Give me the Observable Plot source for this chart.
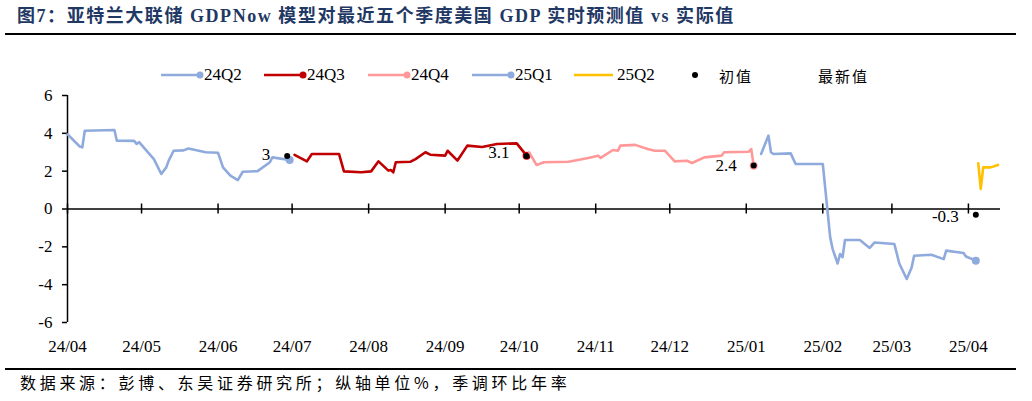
<!DOCTYPE html>
<html><head><meta charset="utf-8">
<script src="https://cdn.jsdelivr.net/npm/d3@7"></script>
<script src="https://cdn.jsdelivr.net/npm/@observablehq/plot@0.6"></script>
<style>
html,body{margin:0;padding:0;background:#fff;}
#wrap{position:relative;width:1032px;height:401px;overflow:hidden;font-family:"Liberation Serif","Noto Sans CJK SC",serif;color:#000;}
#title{position:absolute;left:17px;top:6px;line-height:20px;font-size:18px;font-weight:bold;color:#1F3864;letter-spacing:1.55px;white-space:nowrap;}
.hr{position:absolute;left:5px;width:1011px;height:2px;background:#000;}
.item{position:absolute;top:65px;height:20px;display:flex;align-items:center;font-size:17px;white-space:nowrap;}
.item svg{display:block;}
.cn{font-family:"Noto Sans CJK SC",sans-serif;font-size:15px;letter-spacing:2px;}
#chart{position:absolute;left:0;top:88px;}
#caption{position:absolute;left:20px;top:372px;line-height:20px;font-family:"Noto Sans CJK SC",sans-serif;font-size:16px;letter-spacing:3.7px;white-space:nowrap;}
</style>
</head><body>
<div id="wrap">
  <div id="title">图7：亚特兰大联储 GDPNow 模型对最近五个季度美国 GDP 实时预测值 vs 实际值</div>
  <div class="hr" style="top:33px"></div>
  <div id="legend"></div>
  <div id="chart"></div>
  <div class="hr" style="top:368px"></div>
  <div id="caption">数据来源：彭博、东吴证券研究所；纵轴单位%，季调环比年率</div>
</div>
<script>
// ---- data ----
const seriesNames = ["24Q2", "24Q3", "24Q4", "25Q1", "25Q2"];
const seriesColors = ["#8FAADC", "#C00000", "#FF9999", "#8FAADC", "#FFC000"];

const q24Q2Dates = ["2024-04-01","2024-04-06","2024-04-07","2024-04-08","2024-04-20","2024-04-21","2024-04-28","2024-04-29","2024-04-30","2024-05-06","2024-05-09","2024-05-11","2024-05-12","2024-05-14","2024-05-18","2024-05-20","2024-05-27","2024-06-01","2024-06-03","2024-06-06","2024-06-09","2024-06-11","2024-06-17","2024-06-22","2024-06-23","2024-06-30"];
const q24Q2Values = [3.95,3.30,3.26,4.14,4.18,3.61,3.60,3.44,3.53,2.64,1.85,2.20,2.56,3.08,3.10,3.20,3.00,2.97,2.20,1.76,1.53,1.97,2.00,2.47,2.73,2.59];

const q24Q3Dates = ["2024-07-02","2024-07-07","2024-07-09","2024-07-20","2024-07-22","2024-07-29","2024-08-02","2024-08-05","2024-08-09","2024-08-10","2024-08-11","2024-08-12","2024-08-18","2024-08-20","2024-08-24","2024-08-26","2024-09-01","2024-09-02","2024-09-06","2024-09-10","2024-09-16","2024-09-22","2024-09-30","2024-10-04"];
const q24Q3Values = [2.86,2.52,2.91,2.91,1.99,1.94,1.99,2.52,2.03,2.06,1.94,2.47,2.50,2.64,3.00,2.87,2.82,3.08,2.56,3.35,3.28,3.44,3.47,2.82];

const q24Q4Dates = ["2024-10-05","2024-10-08","2024-10-11","2024-10-21","2024-10-29","2024-11-02","2024-11-03","2024-11-08","2024-11-10","2024-11-11","2024-11-17","2024-11-22","2024-11-25","2024-11-29","2024-12-03","2024-12-08","2024-12-10","2024-12-15","2024-12-22","2024-12-23","2025-01-02","2025-01-03","2025-01-04"];
const q24Q4Values = [3.00,2.33,2.47,2.50,2.70,2.82,2.70,3.12,3.08,3.35,3.39,3.17,3.08,3.08,2.52,2.55,2.43,2.73,2.82,3.00,3.03,3.17,2.29];

const q25Q1Dates = ["2025-01-07","2025-01-10","2025-01-11","2025-01-12","2025-01-19","2025-01-21","2025-02-01","2025-02-04","2025-02-05","2025-02-07","2025-02-08","2025-02-09","2025-02-10","2025-02-16","2025-02-20","2025-02-22","2025-03-02","2025-03-04","2025-03-07","2025-03-09","2025-03-10","2025-03-17","2025-03-22","2025-03-23","2025-03-30","2025-03-31","2025-04-04"];
const q25Q1Values = [2.91,3.88,3.00,2.91,2.94,2.38,2.38,-1.50,-2.12,-2.88,-2.38,-2.55,-1.64,-1.64,-2.06,-1.77,-1.85,-2.88,-3.70,-3.09,-2.47,-2.42,-2.65,-2.20,-2.33,-2.51,-2.73];

const q25Q2Dates = ["2025-04-05","2025-04-06","2025-04-07","2025-04-10","2025-04-13"];
const q25Q2Values = [2.41,1.06,2.20,2.20,2.33];

// 初值 (black dots) and 最新值 (labels)
const releaseDates = ["2024-06-29","2024-10-04","2025-01-04","2025-04-04"];
const initialValues = [2.8, 2.8, 2.3, -0.3];
const latestValues = [3.0, 3.1, 2.4, -0.3];

const xDomain = ["2024-04-01", "2025-04-14"];
const monthTicks = ["2024-04-01","2024-05-01","2024-06-01","2024-07-01","2024-08-01","2024-09-01","2024-10-01","2024-11-01","2024-12-01","2025-01-01","2025-02-01","2025-03-01","2025-04-01"];
const yTicks = [-6, -4, -2, 0, 2, 4, 6];
const legendExtra = ["初值", "最新值"];

// ---- build ----
const parse = d3.utcParse("%Y-%m-%d");
const allDates = [q24Q2Dates, q24Q3Dates, q24Q4Dates, q25Q1Dates, q25Q2Dates];
const allValues = [q24Q2Values, q24Q3Values, q24Q4Values, q25Q1Values, q25Q2Values];
const endDot = [true, true, true, true, false];
const series = seriesNames.map((name, k) => ({
  name, color: seriesColors[k], endDot: endDot[k],
  rows: allDates[k].map((d, i) => ({date: parse(d), value: allValues[k][i]}))
}));
const releases = releaseDates.map((d, i) => ({date: parse(d), initial: initialValues[i], latest: latestValues[i]}));
const ticks = monthTicks.map(parse);

const marks = [
  Plot.ruleY([0], {stroke: "#000", strokeWidth: 1.5}),
  Plot.ruleX([parse(xDomain[0])], {stroke: "#000", strokeWidth: 1.5}),
  Plot.ruleX(ticks, {x: d => d, y1: 0, y2: 0, insetTop: -5, insetBottom: -5, stroke: "#000", strokeWidth: 1.5}),
  Plot.axisY({ticks: yTicks, tickSize: 5, tickPadding: 10, tickFormat: d => String(d), label: null, strokeWidth: 1.5}),
  Plot.axisX({ticks: ticks, tickSize: 0, tickPadding: 17, tickFormat: d3.utcFormat("%y/%m"), label: null})
];
for (const s of series) {
  marks.push(Plot.line(s.rows, {x: "date", y: "value", stroke: s.color, strokeWidth: 2.6, strokeLinejoin: "round", strokeLinecap: "round"}));
  if (s.endDot) marks.push(Plot.dot(s.rows.slice(-1), {x: "date", y: "value", r: 4, fill: s.color, stroke: "none"}));
}
marks.push(Plot.dot(releases, {x: "date", y: "initial", r: 3, fill: "#000", stroke: "none"}));
marks.push(Plot.text(releases, {x: "date", y: "latest", text: d => String(d.latest), textAnchor: "end", dx: -17, dy: 2, fontSize: 17, fill: "#000"}));

const chart = Plot.plot({
  width: 1032, height: 272,
  marginLeft: 67, marginRight: 32, marginTop: 7, marginBottom: 38,
  x: {type: "utc", domain: xDomain.map(parse)},
  y: {domain: [-6, 6]},
  style: {fontSize: "17px", fontFamily: "Liberation Serif", color: "#000", background: "#fff", overflow: "visible"},
  marks
});
document.getElementById("chart").appendChild(chart);

// ---- legend ----
const legend = document.getElementById("legend");
const legendLeft = [161, 264, 368, 472, 574];
series.forEach((s, k) => {
  const div = document.createElement("div");
  div.className = "item";
  div.style.left = legendLeft[k] + "px";
  div.innerHTML = `<svg width="43" height="20"><line x1="0" y1="10" x2="39" y2="10" stroke="${s.color}" stroke-width="2.6"/>` +
    (s.endDot ? `<circle cx="39" cy="10" r="3.5" fill="${s.color}"/>` : "") + `</svg><span>${s.name}</span>`;
  legend.appendChild(div);
});
const extraLeft = [691, 790];
legendExtra.forEach((t, k) => {
  const div = document.createElement("div");
  div.className = "item";
  div.style.left = extraLeft[k] + "px";
  div.innerHTML = `<svg width="28" height="20">` + (k === 0 ? `<circle cx="4" cy="10" r="3" fill="#000"/>` : "") + `</svg><span class="cn">${t}</span>`;
  legend.appendChild(div);
});
</script>
</body></html>
